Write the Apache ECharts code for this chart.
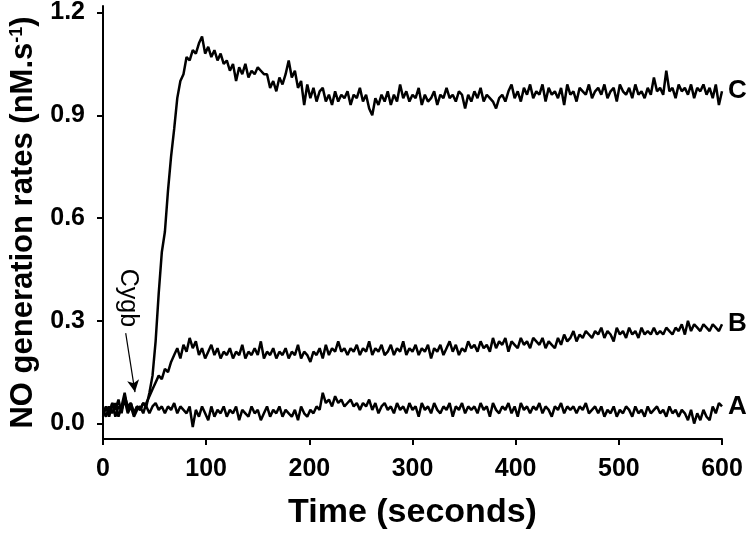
<!DOCTYPE html>
<html>
<head>
<meta charset="utf-8">
<script src="https://cdn.jsdelivr.net/npm/echarts@6/dist/echarts.min.js"></script>
<style>
  html, body { margin: 0; padding: 0; background: #fff; }
  #chart { width: 750px; height: 533px; }
</style>
</head>
<body>
<div id="chart"></div>
<script>
// time axis, one reading every 3 s
const step = 3;
const yTicks = [0, 0.3, 0.6, 0.9, 1.2];

// trace C (rows of 20 readings = 60 s)
const traceC = [
  0.03, 0.05, 0.02, 0.06, 0.04, 0.07, 0.03, 0.08, 0.05, 0.06, 0.03, 0.05, 0.04, 0.06, 0.05, 0.09, 0.14, 0.24, 0.38, 0.50,
  0.56, 0.68, 0.78, 0.86, 0.95, 1.00, 1.02, 1.07, 1.06, 1.09, 1.08, 1.11, 1.13, 1.08, 1.10, 1.07, 1.09, 1.06, 1.08, 1.05,
  1.06, 1.03, 1.05, 1.00, 1.04, 1.02, 1.05, 1.01, 1.03, 1.02, 1.04, 1.03, 1.02, 1.02, 0.98, 1.00, 0.97, 1.01, 0.99, 1.02,
  1.06, 1.01, 1.03, 0.98, 1.00, 0.93, 0.99, 0.95, 0.98, 0.94, 0.97, 0.98, 0.94, 0.96, 0.93, 0.97, 0.94, 0.96, 0.95, 0.97,
  0.93, 0.96, 0.95, 0.98, 0.94, 0.96, 0.92, 0.90, 0.95, 0.93, 0.96, 0.94, 0.97, 0.93, 0.96, 0.94, 0.99, 0.95, 0.97, 0.94,
  0.96, 0.95, 0.98, 0.93, 0.96, 0.94, 0.95, 0.97, 0.93, 0.96, 0.95, 0.98, 0.95, 0.96, 0.94, 0.97, 0.96, 0.92, 0.96, 0.94,
  0.97, 0.95, 0.98, 0.94, 0.96, 0.95, 0.94, 0.92, 0.95, 0.96, 0.94, 0.97, 0.99, 0.95, 0.97, 0.94, 0.98, 0.96, 0.99, 0.95,
  0.97, 0.96, 0.99, 0.94, 0.98, 0.96, 0.97, 0.95, 0.98, 0.93, 0.99, 0.96, 0.97, 0.94, 0.98, 0.97, 0.96, 0.99, 0.95, 0.97,
  0.98, 0.96, 0.99, 0.95, 0.97, 0.98, 0.94, 0.99, 0.97, 0.96, 0.98, 0.95, 0.99, 0.96, 0.97, 0.95, 0.98, 0.96, 1.01, 0.97,
  0.98, 0.96, 1.03, 0.97, 0.98, 0.95, 0.99, 0.97, 0.98, 0.96, 0.99, 0.95, 0.98, 0.97, 0.99, 0.96, 0.98, 0.95, 0.99, 0.93,
  0.97
];

// trace B
const traceB = [
  0.02, 0.05, 0.03, 0.06, 0.02, 0.05, 0.04, 0.07, 0.03, 0.05, 0.02, 0.04, 0.05, 0.03, 0.06, 0.08, 0.10, 0.12, 0.14, 0.13,
  0.16, 0.15, 0.18, 0.20, 0.22, 0.19, 0.23, 0.21, 0.25, 0.22, 0.24, 0.20, 0.22, 0.19, 0.21, 0.23, 0.20, 0.22, 0.19, 0.21,
  0.20, 0.22, 0.19, 0.21, 0.20, 0.23, 0.19, 0.21, 0.20, 0.22, 0.20, 0.24, 0.19, 0.21, 0.20, 0.22, 0.19, 0.21, 0.20, 0.22,
  0.19, 0.21, 0.20, 0.23, 0.19, 0.21, 0.20, 0.18, 0.21, 0.20, 0.22, 0.19, 0.23, 0.20, 0.22, 0.21, 0.24, 0.21, 0.22, 0.20,
  0.22, 0.21, 0.23, 0.20, 0.22, 0.21, 0.24, 0.20, 0.22, 0.21, 0.23, 0.20, 0.21, 0.23, 0.20, 0.22, 0.21, 0.24, 0.20, 0.22,
  0.21, 0.23, 0.20, 0.22, 0.21, 0.23, 0.19, 0.22, 0.21, 0.23, 0.20, 0.22, 0.24, 0.21, 0.23, 0.20, 0.22, 0.21, 0.24, 0.22,
  0.23, 0.21, 0.24, 0.22, 0.23, 0.21, 0.25, 0.22, 0.24, 0.23, 0.25, 0.21, 0.24, 0.23, 0.22, 0.25, 0.23, 0.24, 0.22, 0.25,
  0.24, 0.23, 0.25, 0.22, 0.24, 0.23, 0.22, 0.25, 0.23, 0.26, 0.24, 0.25, 0.27, 0.24, 0.26, 0.25, 0.27, 0.26, 0.25, 0.27,
  0.26, 0.28, 0.25, 0.27, 0.26, 0.24, 0.28, 0.26, 0.27, 0.25, 0.28, 0.26, 0.27, 0.25, 0.28, 0.26, 0.27, 0.26, 0.28, 0.26,
  0.27, 0.26, 0.28, 0.27, 0.26, 0.28, 0.27, 0.29, 0.26, 0.30, 0.27, 0.29, 0.28, 0.27, 0.29, 0.28, 0.27, 0.29, 0.28, 0.27,
  0.29
];

// trace A
const traceA = [
  0.04, 0.02, 0.05, 0.03, 0.06, 0.02, 0.05, 0.09, 0.04, 0.06, 0.03, 0.05, 0.04, 0.06, 0.05, 0.03, 0.05, 0.06, 0.04, 0.05,
  0.03, 0.05, 0.04, 0.06, 0.03, 0.05, 0.04, 0.03, 0.05, -0.01, 0.04, 0.02, 0.05, 0.03, 0.01, 0.05, 0.02, 0.04, 0.03, 0.05,
  0.02, 0.04, 0.03, 0.05, 0.01, 0.04, 0.03, 0.02, 0.05, 0.03, 0.04, 0.01, 0.03, 0.05, 0.02, 0.04, 0.03, 0.05, 0.02, 0.04,
  0.03, 0.02, 0.04, 0.01, 0.05, 0.03, 0.02, 0.04, 0.03, 0.05, 0.04, 0.09, 0.06, 0.07, 0.05, 0.08, 0.06, 0.07, 0.05, 0.06,
  0.07, 0.05, 0.06, 0.04, 0.06, 0.05, 0.07, 0.04, 0.06, 0.03, 0.05, 0.06, 0.04, 0.05, 0.03, 0.06, 0.04, 0.05, 0.03, 0.06,
  0.04, 0.05, 0.02, 0.06, 0.04, 0.05, 0.03, 0.06, 0.04, 0.03, 0.05, 0.04, 0.06, 0.02, 0.05, 0.04, 0.06, 0.03, 0.05, 0.04,
  0.05, 0.03, 0.06, 0.04, 0.05, 0.02, 0.06, 0.04, 0.03, 0.05, 0.04, 0.06, 0.03, 0.05, 0.02, 0.06, 0.04, 0.05, 0.03, 0.05,
  0.04, 0.06, 0.03, 0.05, 0.04, 0.02, 0.05, 0.04, 0.06, 0.03, 0.05, 0.04, 0.05, 0.03, 0.05, 0.04, 0.06, 0.03, 0.04, 0.05,
  0.03, 0.05, 0.02, 0.04, 0.03, 0.05, 0.02, 0.04, 0.03, 0.05, 0.04, 0.02, 0.05, 0.03, 0.04, 0.02, 0.05, 0.03, 0.04, 0.05,
  0.03, 0.04, 0.02, 0.05, 0.03, 0.04, 0.02, 0.04, 0.03, 0.01, 0.04, 0.00, 0.03, 0.01, 0.04, 0.02, 0.01, 0.05, 0.03, 0.06,
  0.05
];

// Cygb addition arrow (tail, head) in data units
const cygbArrow = [[22, 0.264], [31, 0.092]];

const FONT = 'Liberation Sans, Arial, sans-serif';

const toPairs = (arr) => arr.map((v, i) => [i * step, v]);

const traceSeries = (name, values, extra) => Object.assign({
  name: name,
  type: 'line',
  data: toPairs(values),
  showSymbol: false,
  symbol: 'none',
  smooth: false,
  animation: false,
  lineStyle: { color: '#000', width: 2.5 },
  itemStyle: { color: '#000' },
  endLabel: {
    show: true,
    formatter: name,
    distance: 6,
    color: '#000',
    fontFamily: FONT,
    fontWeight: 'bold',
    fontSize: 26,
  },
}, extra || {});

const myChart = echarts.init(document.getElementById('chart'));

myChart.setOption({
  backgroundColor: '#fff',
  animation: false,
  grid: {
    left: 103, right: 28, top: 6, bottom: 94,
    outerBoundsMode: 'none',
  },
  xAxis: {
    type: 'value',
    min: 0,
    max: 600,
    interval: 100,
    name: 'Time (seconds)',
    nameLocation: 'middle',
    nameGap: 57,
    nameTextStyle: { color: '#000', fontFamily: FONT, fontWeight: 'bold', fontSize: 34 },
    axisLine: { onZero: false, lineStyle: { color: '#000', width: 2 } },
    axisTick: { show: true, inside: false, length: 6, lineStyle: { color: '#000', width: 2 } },
    axisLabel: { color: '#000', fontFamily: FONT, fontWeight: 'bold', fontSize: 25, margin: 18 },
    splitLine: { show: false },
  },
  yAxis: {
    type: 'value',
    min: -0.045,
    max: 1.219,
    name: '{a|NO generation rates (nM.s}{b|-1}{a|)}',
    nameLocation: 'middle',
    nameRotate: 90,
    nameGap: 63,
    nameTextStyle: {
      color: '#000',
      rich: {
        a: { fontFamily: FONT, fontWeight: 'bold', fontSize: 31, color: '#000' },
        b: { fontFamily: FONT, fontWeight: 'bold', fontSize: 18, color: '#000', verticalAlign: 'top', padding: [0, 0, 14, 0] },
      },
    },
    axisLine: { onZero: false, lineStyle: { color: '#000', width: 2 } },
    axisTick: { show: true, inside: false, length: 6, customValues: yTicks, lineStyle: { color: '#000', width: 2 } },
    axisLabel: {
      customValues: yTicks,
      formatter: (v) => v.toFixed(1),
      color: '#000', fontFamily: FONT, fontWeight: 'bold', fontSize: 25, margin: 18,
    },
    splitLine: { show: false },
  },
  graphic: [
    {
      type: 'text',
      x: 128,
      y: 298,
      rotation: -Math.PI / 2,
      style: {
        text: 'Cygb',
        fill: '#000',
        font: '25px ' + FONT,
        textAlign: 'center',
        textVerticalAlign: 'middle',
      },
    },
  ],
  series: [
    traceSeries('C', traceC),
    traceSeries('B', traceB),
    traceSeries('A', traceA, {
      markLine: {
        silent: true,
        animation: false,
        symbol: ['none', 'arrow'],
        symbolSize: [9, 12],
        label: { show: false },
        lineStyle: { color: '#000', width: 1.2, type: 'solid' },
        data: [[{ coord: cygbArrow[0] }, { coord: cygbArrow[1] }]],
      },
    }),
  ],
});
</script>
</body>
</html>
